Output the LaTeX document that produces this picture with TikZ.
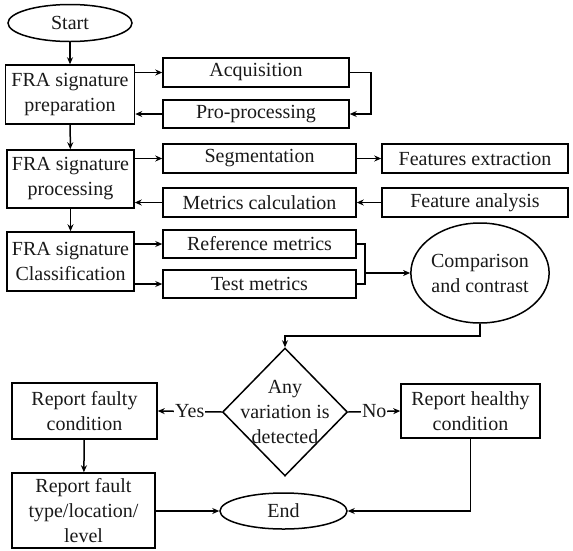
\documentclass[tikz,border=0pt]{standalone}
\usepackage{fontspec}
\setmainfont{Liberation Serif}
\usetikzlibrary{shapes.geometric,arrows.meta}
\begin{document}
\begin{tikzpicture}[x=1pt,y=-1pt,
  every node/.style={font=\fontsize{20}{25}\selectfont, text=black!90},
  box/.style={draw, line width=1.5pt, rectangle, inner sep=0pt, align=center},
  oval/.style={draw, line width=1.5pt, ellipse, inner sep=0pt, align=center},
  conn/.style={line width=1.5pt},
  arr/.style={line width=1.5pt, -{Stealth[length=7pt,width=6pt]}},
  lab/.style={fill=white, inner sep=1pt}
]
\useasboundingbox (0,0) rectangle (573,550);
% nodes
\node[oval, minimum width=124pt, minimum height=37pt] (start) at (70,23) {Start};
\node[box, minimum width=129pt, minimum height=59pt] (prep) at (70,94.5) {FRA signature\\preparation};
\node[box, minimum width=186pt, minimum height=29pt] (acq) at (256,72.5) {Acquisition};
\node[box, minimum width=186pt, minimum height=28pt] (pro) at (256,114) {Pro-processing};
\node[box, minimum width=127pt, minimum height=58pt] (proc) at (70.5,179) {FRA signature\\processing};
\node[box, minimum width=193pt, minimum height=29pt] (seg) at (259.5,158.5) {Segmentation};
\node[box, minimum width=193pt, minimum height=29pt] (metr) at (259.5,202.5) {Metrics calculation};
\node[box, minimum width=186pt, minimum height=29pt] (feat) at (475,158.5) {Features extraction};
\node[box, minimum width=186pt, minimum height=29pt] (fana) at (475,202.5) {Feature analysis};
\node[box, minimum width=127pt, minimum height=59pt] (class) at (70.5,261.5) {FRA signature\\Classification};
\node[box, minimum width=193pt, minimum height=28pt] (ref) at (259.5,244) {Reference metrics};
\node[box, minimum width=193pt, minimum height=28pt] (test) at (259.5,284) {Test metrics};
\node[oval, minimum width=117pt, minimum height=100pt] (comp) at (480,273) {Comparison\\and contrast};
\node[draw, line width=1.5pt, diamond, inner sep=0pt, minimum width=125pt, minimum height=128pt] (dec) at (285,412) {};
\node[align=center] (dectext) at (285,412) {Any\\variation is\\detected};
\node[box, minimum width=145pt, minimum height=56pt] (faulty) at (84.5,411) {Report faulty\\condition};
\node[box, minimum width=143pt, minimum height=75pt] (fault) at (83.5,510.5) {Report fault\\type/location/\\level};
\node[box, minimum width=139pt, minimum height=54pt] (healthy) at (470.5,411) {Report healthy\\condition};
\node[oval, minimum width=127pt, minimum height=36pt] (end) at (283.5,511) {End};
% connectors
\draw[arr] (start) -- (prep);
\draw[arr] (prep.east |- acq.west) -- (acq.west);
\draw[arr] (acq.east) -- ++(21,0) |- (pro.east);
\draw[arr] (pro.west) -- (prep.east |- pro.west);
\draw[arr] (prep) -- (proc);
\draw[arr] (proc.east |- seg.west) -- (seg.west);
\draw[arr] (seg.east) -- (feat.west);
\draw[arr] (fana.west) -- (metr.east);
\draw[arr] (metr.west) -- (proc.east |- metr.west);
\draw[arr] (proc) -- (class);
\draw[arr] (class.east |- ref.west) -- (ref.west);
\draw[arr] (class.east |- test.west) -- (test.west);
\draw[conn] (ref.east) -- ++(8,0) coordinate (br) |- (test.east);
\draw[arr] (br |- comp.west) -- (comp.west);
\draw[arr] (comp.south) -- ++(0,12) -| (dec.north);
\draw[arr] (dec.west) -- node[lab]{Yes} (faulty.east);
\draw[arr] (dec.east) -- node[lab]{No} (healthy.west);
\draw[arr] (faulty) -- (fault);
\draw[arr] (fault.east |- end.west) -- (end.west);
\draw[arr] (healthy.south) |- (end.east);
\end{tikzpicture}
\end{document}
